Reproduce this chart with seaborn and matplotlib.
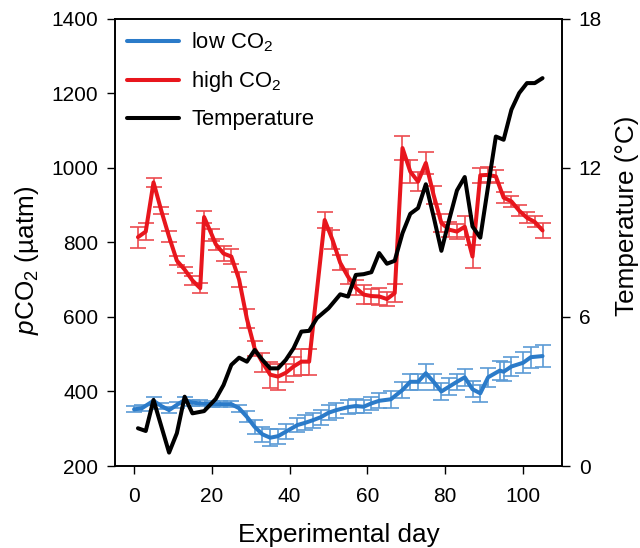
import matplotlib
matplotlib.use("Agg")
import matplotlib.pyplot as plt
import seaborn as sns
import pandas as pd

# ---- data ----
days_low = [0, 2, 5, 7, 9, 11, 13, 15, 17, 20, 22, 25, 27, 29, 31, 33, 35, 37, 39, 42,
            44, 46, 48, 50, 52, 55, 57, 59, 61, 63, 66, 69, 71, 73, 75, 77, 79, 81, 83, 85,
            87, 89, 91, 94, 95, 97, 100, 102, 105]
pco2_low = [352, 355, 375, 361, 350, 364, 377, 370, 368, 366, 366, 366, 355, 332, 305, 285, 276, 280, 292, 310,
            316, 323, 331, 343, 350, 358, 361, 359, 368, 375, 379, 404, 426, 426, 449, 426, 400, 413, 426, 438,
            406, 395, 438, 456, 453, 467, 477, 492, 495]
err_low = [8, 8, 10, 8, 8, 8, 8, 8, 8, 8, 8, 8, 10, 15, 18, 20, 22, 20, 20, 20,
           20, 20, 20, 20, 20, 18, 18, 18, 18, 20, 22, 22, 22, 22, 25, 22, 22, 22, 22, 22,
           22, 22, 25, 25, 25, 25, 28, 28, 30]

days_high = [1, 3, 5, 7, 9, 11, 13, 15, 17, 18, 20, 21, 23, 25, 27, 29, 31, 33, 35, 37,
             39, 41, 43, 45, 49, 51, 53, 55, 57, 59, 61, 63, 65, 67, 69, 71, 73, 75, 77, 79,
             81, 83, 85, 87, 89, 91, 93, 95, 97, 99, 101, 103, 105]
pco2_high = [814, 829, 961, 885, 815, 751, 727, 698, 677, 868, 820, 795, 770, 762, 700, 595, 515, 478, 445, 440,
             450, 467, 480, 480, 860, 807, 745, 708, 678, 660, 656, 655, 648, 664, 1053, 990, 963, 1013, 927, 852,
             834, 829, 842, 762, 980, 981, 977, 920, 910, 885, 866, 855, 832]
err_high = [28, 23, 12, 10, 15, 12, 8, 12, 14, 15, 15, 15, 20, 20, 20, 25, 20, 25, 35, 35,
            25, 25, 35, 35, 22, 25, 20, 20, 20, 25, 20, 22, 20, 25, 32, 30, 25, 30, 25, 25,
            20, 20, 28, 30, 20, 20, 18, 15, 15, 15, 15, 15, 20]

days_temp = [1, 3, 5, 9, 11, 13, 15, 18, 21, 23, 25, 27, 29, 31, 33, 35, 37, 39, 41, 43,
             45, 47, 50, 53, 55, 57, 59, 61, 63, 65, 67, 69, 71, 73, 75, 77, 79, 81, 83, 85,
             87, 89, 91, 93, 95, 97, 99, 101, 103, 105]
temperature = [1.52, 1.41, 2.66, 0.54, 1.32, 2.79, 2.12, 2.21, 2.70, 3.26, 4.07, 4.36, 4.20, 4.67, 4.27, 3.93, 3.93, 4.27, 4.74, 5.41,
               5.44, 5.95, 6.35, 6.91, 6.82, 7.69, 7.72, 7.80, 8.57, 8.14, 8.26, 9.37, 10.15, 10.38, 11.34, 10.04, 8.66, 9.91, 11.09, 11.63,
               9.64, 9.19, 11.25, 13.26, 13.13, 14.34, 15.01, 15.41, 15.41, 15.61]

left_ticks = [200, 400, 600, 800, 1000, 1200, 1400]
right_ticks = [0, 6, 12, 18]
x_ticks = [0, 20, 40, 60, 80, 100]

low_df = pd.DataFrame({"day": days_low, "pco2": pco2_low, "err": err_low})
high_df = pd.DataFrame({"day": days_high, "pco2": pco2_high, "err": err_high})
temp_df = pd.DataFrame({"day": days_temp, "temp": temperature})

# ---- style ----
sns.set_style("ticks")
plt.rcParams["font.family"] = ["Liberation Sans", "DejaVu Sans"]
plt.rcParams["mathtext.fontset"] = "custom"
plt.rcParams["mathtext.rm"] = "Liberation Sans"
plt.rcParams["mathtext.it"] = "Liberation Sans:italic"
plt.rcParams["text.color"] = "black"
plt.rcParams["axes.labelcolor"] = "black"
plt.rcParams["xtick.color"] = "black"
plt.rcParams["ytick.color"] = "black"

BLUE = "#2b7bc9"
BLUE_E = "#5b9bd5"
RED = "#e8161d"
RED_E = "#ec4a4f"

fig = plt.figure(figsize=(6.4, 5.48), dpi=100)
ax = fig.add_axes([0.1797, 0.1496, 0.6984, 0.8162])

ax.errorbar(low_df["day"], low_df["pco2"], yerr=low_df["err"], fmt="none",
            ecolor=BLUE_E, elinewidth=1.2, capsize=6, capthick=1.2, zorder=2)
ax.errorbar(high_df["day"], high_df["pco2"], yerr=high_df["err"], fmt="none",
            ecolor=RED_E, elinewidth=1.2, capsize=6, capthick=1.2, zorder=2)
sns.lineplot(data=low_df, x="day", y="pco2", ax=ax, color=BLUE, lw=2.9,
             label="low CO$_2$", zorder=3, legend=False)
sns.lineplot(data=high_df, x="day", y="pco2", ax=ax, color=RED, lw=2.9,
             label="high CO$_2$", zorder=3, legend=False)

ax2 = ax.twinx()
sns.lineplot(data=temp_df, x="day", y="temp", ax=ax2, color="black", lw=2.9,
             label="Temperature", legend=False)

ax.set_xlim(-4.9, 110)
ax.set_ylim(200, 1400)
ax2.set_ylim(0, 18)
ax.set_xticks(x_ticks)
ax.set_yticks(left_ticks)
ax2.set_yticks(right_ticks)

for a in (ax, ax2):
    a.tick_params(direction="out", length=6, width=1.0, labelsize=15, pad=6, color="black")
    for s in a.spines.values():
        s.set_visible(True)
        s.set_color("black")
        s.set_linewidth(1.2)
ax.tick_params(axis="x", pad=9)

ax.set_xlabel("Experimental day", fontsize=18.8, labelpad=12)
ax.set_ylabel(r"$\mathit{p}$CO$_2$ (µatm)", fontsize=18.8)
ax2.set_ylabel("Temperature (°C)", fontsize=18.8)
ax.yaxis.set_label_coords(-0.165, 0.46)
ax2.yaxis.set_label_coords(1.118, 0.56)

h1, l1 = ax.get_legend_handles_labels()
h2, l2 = ax2.get_legend_handles_labels()
leg = ax2.legend(h1 + h2, l1 + l2, loc="upper left", bbox_to_anchor=(0.0, 1.0),
                 frameon=False, fontsize=15.8, handlelength=2.37, handletextpad=0.55,
                 labelspacing=0.68, borderaxespad=0.0, borderpad=0.55)

fig.savefig("out.png", dpi=100)
